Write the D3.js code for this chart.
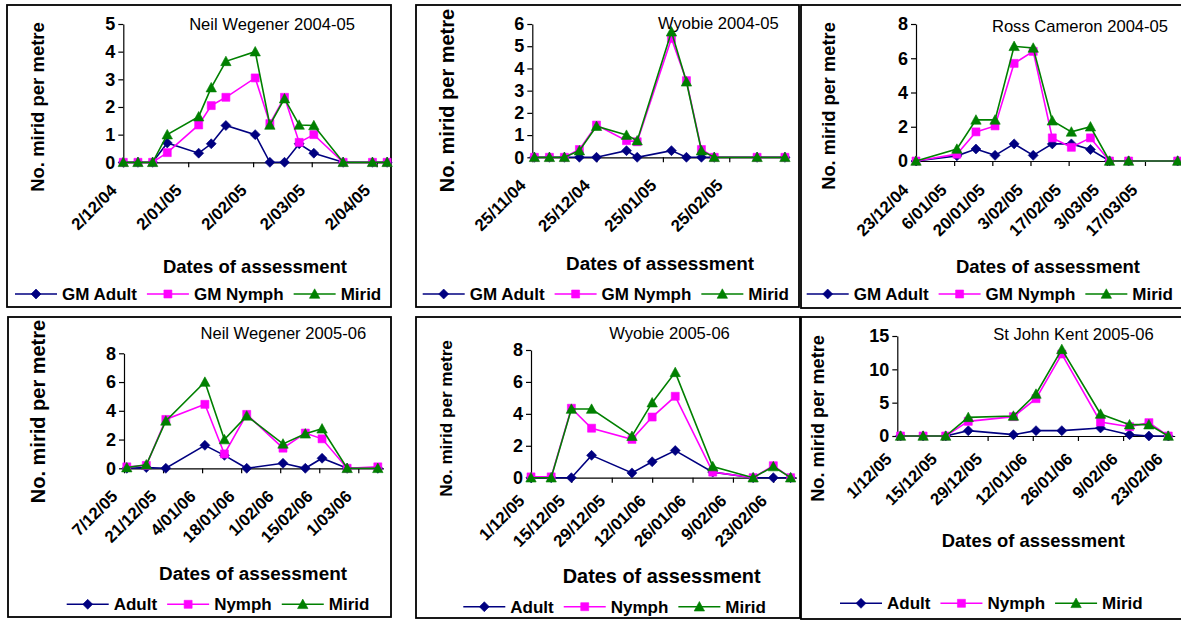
<!DOCTYPE html>
<html>
<head>
<meta charset="utf-8">
<script src="https://cdn.jsdelivr.net/npm/d3@7"></script>
<style>
html, body { margin: 0; padding: 0; background: #fff; }
svg { display: block; font-family: "Liberation Sans", Arial, sans-serif; }
</style>
</head>
<body>
<svg id="chart" width="1181" height="621"></svg>
<script>
// ---- Mirid counts per metre, by site and season ----

// Neil Wegener 2004-05
const nw0405Title = "Neil Wegener 2004-05";
const nw0405Dates = ["2/12/04","9/12/04","16/12/04","23/12/04","7/01/05","13/01/05","20/01/05","3/02/05","10/02/05","17/02/05","24/02/05","3/03/05","17/03/05","31/03/05","7/04/05"];
const nw0405Adult = [0, 0, 0, 0.7, 0.33, 0.67, 1.33, 1.0, 0, 0, 0.67, 0.33, 0, 0, 0];
const nw0405Nymph = [0, 0, 0, 0.35, 1.35, 2.05, 2.35, 3.05, 1.4, 2.35, 0.72, 1.0, 0, 0, 0];
const nw0405Mirid = [0, 0, 0, 1.0, 1.65, 2.7, 3.65, 4.0, 1.35, 2.3, 1.35, 1.33, 0, 0, 0];
const nw0405Ticks = ["2/12/04","2/01/05","2/02/05","2/03/05","2/04/05"];

// Wyobie 2004-05
const wy0405Title = "Wyobie 2004-05";
const wy0405Dates = ["26/11/04","3/12/04","10/12/04","17/12/04","25/12/04","8/01/05","13/01/05","29/01/05","5/02/05","12/02/05","18/02/05","10/03/05","23/03/05"];
const wy0405Adult = [0, 0, 0, 0, 0, 0.3, 0, 0.3, 0, 0, 0, 0, 0];
const wy0405Nymph = [0, 0, 0, 0.35, 1.45, 0.75, 0.7, 5.35, 3.45, 0.35, 0, 0, 0];
const wy0405Mirid = [0, 0, 0, 0.3, 1.4, 1.0, 0.75, 5.65, 3.4, 0.3, 0, 0, 0];
const wy0405Ticks = ["25/11/04","25/12/04","25/01/05","25/02/05"];

// Ross Cameron 2004-05
const rc0405Title = "Ross Cameron 2004-05";
const rc0405Dates = ["23/12/04","7/01/05","14/01/05","21/01/05","28/01/05","4/02/05","11/02/05","18/02/05","25/02/05","4/03/05","11/03/05","29/03/05"];
const rc0405Adult = [0, 0.3, 0.7, 0.33, 1.0, 0.33, 1.0, 1.0, 0.67, 0, 0, 0];
const rc0405Nymph = [0, 0.4, 1.7, 2.05, 5.7, 6.4, 1.35, 0.8, 1.35, 0, 0, 0];
const rc0405Mirid = [0, 0.7, 2.4, 2.4, 6.7, 6.6, 2.35, 1.7, 2.0, 0, 0, 0];
const rc0405Ticks = ["23/12/04","6/01/05","20/01/05","3/02/05","17/02/05","3/03/05","17/03/05"];

// Neil Wegener 2005-06
const nw0506Title = "Neil Wegener 2005-06";
const nw0506Dates = ["8/12/05","15/12/05","22/12/05","5/01/06","12/01/06","20/01/06","2/02/06","10/02/06","16/02/06","25/02/06","8/03/06"];
const nw0506Adult = [0, 0.05, 0, 1.6, 0.9, 0, 0.35, 0, 0.7, 0, 0];
const nw0506Nymph = [0.1, 0.2, 3.4, 4.45, 1.0, 3.75, 1.4, 2.45, 2.05, 0, 0.1];
const nw0506Mirid = [0.05, 0.25, 3.3, 6.0, 2.0, 3.65, 1.7, 2.4, 2.75, 0, 0];
const nw0506Ticks = ["7/12/05","21/12/05","4/01/06","18/01/06","1/02/06","15/02/06","1/03/06"];

// Wyobie 2005-06
const wy0506Title = "Wyobie 2005-06";
const wy0506Dates = ["1/12/05","8/12/05","15/12/05","22/12/05","5/01/06","12/01/06","20/01/06","2/02/06","16/02/06","23/02/06","1/03/06"];
const wy0506Adult = [0, 0, 0, 1.4, 0.3, 1.0, 1.7, 0.35, 0, 0, 0];
const wy0506Nymph = [0.05, 0.05, 4.35, 3.1, 2.4, 3.8, 5.1, 0.35, 0, 0.75, 0];
const wy0506Mirid = [0, 0, 4.3, 4.3, 2.6, 4.7, 6.6, 0.7, 0, 0.7, 0];
const wy0506Ticks = ["1/12/05","15/12/05","29/12/05","12/01/06","26/01/06","9/02/06","23/02/06"];

// St John Kent 2005-06
const sj0506Title = "St John Kent 2005-06";
const sj0506Dates = ["2/12/05","9/12/05","16/12/05","23/12/05","6/01/06","13/01/06","21/01/06","2/02/06","11/02/06","17/02/06","23/02/06"];
const sj0506Adult = [0, 0, 0, 0.8, 0.2, 0.8, 0.8, 1.2, 0.2, 0, 0];
const sj0506Nymph = [0, 0, 0, 2.2, 2.9, 5.6, 12.3, 2.1, 1.4, 2.0, 0];
const sj0506Mirid = [0, 0, 0, 2.8, 3.0, 6.3, 13.0, 3.3, 1.7, 1.7, 0];
const sj0506Ticks = ["1/12/05","15/12/05","29/12/05","12/01/06","26/01/06","9/02/06","23/02/06"];

const legendGM = ["GM Adult", "GM Nymph", "Mirid"];
const legendPlain = ["Adult", "Nymph", "Mirid"];
const yAxisTitle = "No. mirid per metre";
const xAxisTitle = "Dates of assessment";

// ---- panel geometry ----
const parse = d3.utcParse("%d/%m/%y");
const panels = [
  { title: nw0405Title, dates: nw0405Dates, series: [nw0405Adult, nw0405Nymph, nw0405Mirid], ticks: nw0405Ticks, legend: legendGM,
    box: [7, 5, 391, 307], xr: [123.3, 391.3], end: "9/04/05", yr: [162.3, 24], ymax: 5, ystep: 1,
    titlePos: [272, 30], xt: [255, 273.3, 18.5], yt: [37.5, 107, 18.5], leg: [15, 294], lbl: [-10, 25] },
  { title: wy0405Title, dates: wy0405Dates, series: [wy0405Adult, wy0405Nymph, wy0405Mirid], ticks: wy0405Ticks, legend: legendGM,
    box: [416, 5, 799, 307], xr: [532.3, 789.2], end: "25/03/05", yr: [157.3, 24], ymax: 6, ystep: 1,
    titlePos: [718.3, 28.5], xt: [660, 270, 18.9], yt: [447, 100.5, 20], leg: [422.7, 294], lbl: [-10, 25] },
  { title: rc0405Title, dates: rc0405Dates, series: [rc0405Adult, rc0405Nymph, rc0405Mirid], ticks: rc0405Ticks, legend: legendGM,
    box: [801, 5, 1186, 308], xr: [916, 1180.4], end: "30/03/05", yr: [161, 24], ymax: 8, ystep: 2,
    titlePos: [1080, 32.3], xt: [1048, 272.7, 18.5], yt: [829, 106, 18.3], leg: [806.7, 294], lbl: [-11, 26] },
  { title: nw0506Title, dates: nw0506Dates, series: [nw0506Adult, nw0506Nymph, nw0506Mirid], ticks: nw0506Ticks, legend: legendPlain,
    box: [8, 317, 391, 617], xr: [124, 383.4], end: "10/03/06", yr: [468.3, 353.3], ymax: 8, ystep: 2,
    titlePos: [283.3, 339.4], xt: [253, 580, 18.9], yt: [37.5, 411.5, 20], leg: [66.7, 604.3], lbl: [-10, 25] },
  { title: wy0506Title, dates: wy0506Dates, series: [wy0506Adult, wy0506Nymph, wy0506Mirid], ticks: wy0506Ticks, legend: legendPlain,
    box: [416, 317, 800, 618], xr: [531, 796.4], end: "3/03/06", yr: [477.7, 350], ymax: 8, ystep: 2,
    titlePos: [669.5, 339.4], xt: [661.7, 583.3, 19.9], yt: [446, 418.5, 17.1], leg: [463.3, 606.7], lbl: [-10, 20] },
  { title: sj0506Title, dates: sj0506Dates, series: [sj0506Adult, sj0506Nymph, sj0506Mirid], ticks: sj0506Ticks, legend: legendPlain,
    box: [801, 317, 1186, 619], xr: [897.3, 1174.7], end: "25/02/06", yr: [436, 336], ymax: 15, ystep: 5,
    titlePos: [1073.5, 340], xt: [1033.3, 546.7, 18.4], yt: [817.5, 418.4, 18.2], leg: [840, 603.3], lbl: [-9, 20] }
];

const colors = ["#000080", "#FF00FF", "#008000"];
const markerPaths = [
  "M0,-5L5,0L0,5L-5,0Z",          // diamond
  "M-4,-4H4V4H-4Z",               // square
  "M0,-5.2L5.2,4.3L-5.2,4.3Z"     // triangle
];

const svg = d3.select("#chart");
const FONT = '"Liberation Sans", Arial, sans-serif';

panels.forEach(p => {
  const g = svg.append("g");

  // frame
  g.append("rect")
    .attr("x", p.box[0]).attr("y", p.box[1])
    .attr("width", p.box[2] - p.box[0]).attr("height", p.box[3] - p.box[1])
    .attr("fill", "none").attr("stroke", "#000").attr("stroke-width", 1.8);

  const x = d3.scaleUtc().domain([parse(p.ticks[0]), parse(p.end)]).range(p.xr);
  const y = d3.scaleLinear().domain([0, p.ymax]).range(p.yr);

  // x axis
  const xa = g.append("g").attr("transform", `translate(0,${p.yr[0]})`)
    .call(d3.axisBottom(x).tickValues(p.ticks.map(parse)).tickSize(5).tickSizeOuter(0)
      .tickFormat((d, i) => p.ticks[i]));
  xa.selectAll(".tick text")
    .attr("x", 0).attr("y", 0).attr("dy", "0.35em")
    .attr("text-anchor", "end")
    .attr("transform", `translate(${p.lbl[0]},${p.lbl[1]}) rotate(-45)`)
    .attr("font-size", 16.8).attr("font-weight", "bold").attr("font-family", FONT).attr("fill", "#000");

  // y axis
  const ya = g.append("g").attr("transform", `translate(${p.xr[0]},0)`)
    .call(d3.axisLeft(y).tickValues(d3.range(0, p.ymax + p.ystep / 2, p.ystep))
      .tickFormat(d3.format("d")).tickSize(5).tickPadding(3).tickSizeOuter(0));
  ya.selectAll(".tick text")
    .attr("font-size", 18).attr("font-weight", "bold").attr("font-family", FONT).attr("fill", "#000");

  [xa, ya].forEach(a => {
    a.select(".domain").attr("stroke", "#000").attr("stroke-width", 1.2);
    a.selectAll(".tick line").attr("stroke", "#000").attr("stroke-width", 1.2);
  });

  // series: lines then markers, in legend order
  const line = d3.line().x(d => x(d[0])).y(d => y(d[1]));
  p.series.forEach((vals, si) => {
    const pts = p.dates.map((d, i) => [parse(d), vals[i]]);
    g.append("path").attr("d", line(pts))
      .attr("fill", "none").attr("stroke", colors[si]).attr("stroke-width", 1.6);
    g.selectAll(null).data(pts).enter().append("path")
      .attr("d", markerPaths[si])
      .attr("transform", d => `translate(${x(d[0])},${y(d[1])})`)
      .attr("fill", colors[si]).attr("stroke", colors[si]).attr("stroke-width", 0.6);
  });

  // title
  g.append("text").attr("x", p.titlePos[0]).attr("y", p.titlePos[1])
    .attr("text-anchor", "middle").attr("font-size", 16.6).attr("fill", "#000")
    .text(p.title);

  // axis titles
  g.append("text").attr("x", p.xt[0]).attr("y", p.xt[1])
    .attr("text-anchor", "middle").attr("font-size", p.xt[2]).attr("font-weight", "bold").attr("fill", "#000")
    .text(xAxisTitle);
  g.append("text")
    .attr("transform", `translate(${p.yt[0]},${p.yt[1]}) rotate(-90)`)
    .attr("dy", "0.35em")
    .attr("text-anchor", "middle").attr("font-size", p.yt[2]).attr("font-weight", "bold").attr("fill", "#000")
    .text(yAxisTitle);

  // legend
  let lx = p.leg[0];
  const ly = p.leg[1];
  p.legend.forEach((name, si) => {
    g.append("line").attr("x1", lx).attr("x2", lx + 42).attr("y1", ly).attr("y2", ly)
      .attr("stroke", colors[si]).attr("stroke-width", 1.6);
    g.append("path").attr("d", markerPaths[si]).attr("transform", `translate(${lx + 21},${ly})`)
      .attr("fill", colors[si]).attr("stroke", colors[si]).attr("stroke-width", 0.6);
    const t = g.append("text").attr("x", lx + 47).attr("y", ly).attr("dy", "0.35em")
      .attr("font-size", 17).attr("font-weight", "bold").attr("fill", "#000")
      .text(name);
    lx = lx + 47 + t.node().getComputedTextLength() + 10;
  });
});
</script>
</body>
</html>
